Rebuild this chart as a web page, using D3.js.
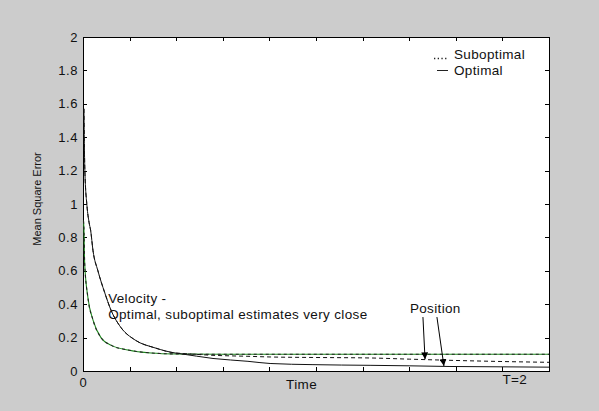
<!DOCTYPE html>
<html>
<head>
<meta charset="utf-8">
<script src="https://cdn.jsdelivr.net/npm/d3@7"></script>
<style>
  body { margin: 0; background: #cccccc; }
  svg { display: block; }
  text { font-family: "Liberation Sans", Arial, sans-serif; fill: #111; }
  .axis path, .axis line { stroke: #000; shape-rendering: crispEdges; }
  .axis text { font-size: 13px; letter-spacing: 0.6px; fill: #111; }
  .note { font-size: 13.5px; letter-spacing: 0.35px; }
</style>
</head>
<body>
<div id="chart"></div>
<script>
// Chart values
var posTime = [0.004, 0.006, 0.008, 0.017, 0.026, 0.033, 0.043, 0.064, 0.093, 0.12, 0.163, 0.223, 0.31, 0.395, 0.416, 0.558, 0.708, 0.803, 0.987, 1.232, 1.40, 1.575, 1.79, 2.0];
var posOptimal = [1.57, 1.34, 1.2, 0.99, 0.89, 0.84, 0.72, 0.60, 0.47, 0.365, 0.26, 0.186, 0.138, 0.108, 0.104, 0.075, 0.058, 0.045, 0.038, 0.034, 0.031, 0.027, 0.025, 0.023];
var posSuboptimal = [1.57, 1.34, 1.2, 0.99, 0.89, 0.84, 0.72, 0.60, 0.47, 0.365, 0.26, 0.186, 0.138, 0.108, 0.106, 0.094, 0.088, 0.084, 0.081, 0.078, 0.071, 0.064, 0.057, 0.052];

var velTime = [0.002, 0.004, 0.007, 0.021, 0.043, 0.077, 0.12, 0.193, 0.292, 0.4, 0.6, 1.0, 1.5, 2.0];
var velOptimal = [0.9, 0.85, 0.65, 0.44, 0.305, 0.2, 0.155, 0.126, 0.108, 0.102, 0.1, 0.1, 0.1, 0.1];
var velSuboptimal = [0.9, 0.85, 0.65, 0.44, 0.305, 0.2, 0.155, 0.126, 0.108, 0.102, 0.1, 0.1, 0.1, 0.1];

var xTicks = [0, 0.2, 0.4, 0.6, 0.8, 1, 1.2, 1.4, 1.6, 1.8, 2];
var yTicks = [0, 0.2, 0.4, 0.6, 0.8, 1, 1.2, 1.4, 1.6, 1.8, 2];

// annotation anchors, in data units
var positionArrows = [
  { t0: 1.459, v0: 0.323, t1: 1.468, v1: 0.07 },
  { t0: 1.519, v0: 0.323, t1: 1.549, v1: 0.03 }
];

// SVG area
var svgWidth = 599;
var svgHeight = 411;

var margin = { top: 37, right: 50, bottom: 40, left: 83 };
var chartWidth = svgWidth - margin.left - margin.right;
var chartHeight = svgHeight - margin.top - margin.bottom;

var svg = d3.select("#chart")
  .append("svg")
  .attr("width", svgWidth)
  .attr("height", svgHeight);

svg.append("defs").append("marker")
  .attr("id", "arrow")
  .attr("viewBox", "0 0 8 8")
  .attr("refX", 8)
  .attr("refY", 4)
  .attr("markerUnits", "userSpaceOnUse")
  .attr("markerWidth", 7)
  .attr("markerHeight", 7)
  .attr("orient", "auto")
  .append("path")
  .attr("d", "M0,0L8,4L0,8Z")
  .attr("fill", "#000");

var chartGroup = svg.append("g")
  .attr("transform", `translate(${margin.left}, ${margin.top})`);

chartGroup.append("rect")
  .attr("width", chartWidth)
  .attr("height", chartHeight)
  .attr("fill", "#fff");

var xScale = d3.scaleLinear().domain([0, 2]).range([0, chartWidth]);
var yScale = d3.scaleLinear().domain([0, 2]).range([chartHeight, 0]);

// axes, ticks pointing inwards like the original
chartGroup.append("g")
  .attr("class", "axis")
  .call(d3.axisLeft(yScale).tickValues(yTicks).tickSize(-4).tickSizeOuter(0)
    .tickPadding(5).tickFormat(d3.format("~g")));

chartGroup.append("g")
  .attr("class", "axis")
  .attr("transform", `translate(${chartWidth}, 0)`)
  .call(d3.axisRight(yScale).tickValues(yTicks).tickSize(-4).tickSizeOuter(0).tickFormat(""));

chartGroup.append("g")
  .attr("class", "axis")
  .call(d3.axisTop(xScale).tickValues(xTicks).tickSize(-4).tickSizeOuter(0).tickFormat(""));

chartGroup.append("g")
  .attr("class", "axis")
  .attr("transform", `translate(0, ${chartHeight})`)
  .call(d3.axisBottom(xScale).tickValues(xTicks).tickSize(-4).tickSizeOuter(0)
    .tickPadding(7).tickFormat(d => d === 0 ? "0" : ""));

chartGroup.selectAll(".axis .domain").remove();

chartGroup.append("rect")
  .attr("width", chartWidth)
  .attr("height", chartHeight)
  .attr("fill", "none")
  .attr("stroke", "#000")
  .attr("shape-rendering", "crispEdges");

// lines
var drawLine = d3.line()
  .x(d => xScale(d[0]))
  .y(d => yScale(d[1]))
  .curve(d3.curveMonotoneX);

var lines = chartGroup.append("g");

lines.append("path")
  .attr("d", drawLine(velTime.map((t, i) => [t, velOptimal[i]])))
  .attr("fill", "none")
  .attr("stroke", "#1f8a1f")
  .attr("stroke-width", 1.1);

lines.append("path")
  .attr("d", drawLine(velTime.map((t, i) => [t, velSuboptimal[i]])))
  .attr("fill", "none")
  .attr("stroke", "#222")
  .attr("stroke-width", 1.1)
  .attr("stroke-dasharray", "3,3");

lines.append("path")
  .attr("d", drawLine(posTime.map((t, i) => [t, posSuboptimal[i]])))
  .attr("fill", "none")
  .attr("stroke", "#111")
  .attr("stroke-width", 1)
  .attr("stroke-dasharray", "4,3");

lines.append("path")
  .attr("d", drawLine(posTime.map((t, i) => [t, posOptimal[i]])))
  .attr("fill", "none")
  .attr("stroke", "#111")
  .attr("stroke-width", 1);

// annotations
chartGroup.append("text")
  .attr("class", "note")
  .attr("x", xScale(0.108))
  .attr("y", yScale(0.41))
  .text("Velocity -");

chartGroup.append("text")
  .attr("class", "note")
  .attr("x", xScale(0.108))
  .attr("y", yScale(0.31))
  .text("Optimal, suboptimal estimates very close");

chartGroup.append("text")
  .attr("class", "note")
  .attr("x", xScale(1.403))
  .attr("y", yScale(0.347))
  .text("Position");

chartGroup.selectAll(".arrow")
  .data(positionArrows)
  .enter()
  .append("line")
  .attr("class", "arrow")
  .attr("x1", d => xScale(d.t0))
  .attr("y1", d => yScale(d.v0))
  .attr("x2", d => xScale(d.t1))
  .attr("y2", d => yScale(d.v1))
  .attr("stroke", "#000")
  .attr("stroke-width", 1)
  .attr("marker-end", "url(#arrow)");

// legend
var legend = chartGroup.append("g")
  .attr("transform", `translate(${chartWidth - 116}, 0)`);

legend.append("line")
  .attr("x1", 1).attr("x2", 15).attr("y1", 21.5).attr("y2", 21.5)
  .attr("stroke", "#222").attr("stroke-width", 1.3).attr("stroke-dasharray", "1.3,2.4");

legend.append("text")
  .attr("class", "note")
  .attr("x", 21).attr("y", 22)
  .text("Suboptimal");

legend.append("line")
  .attr("x1", 4).attr("x2", 15).attr("y1", 33.5).attr("y2", 33.5)
  .attr("stroke", "#222").attr("stroke-width", 1);

legend.append("text")
  .attr("class", "note")
  .attr("x", 21).attr("y", 38)
  .text("Optimal");

// axis labels
chartGroup.append("text")
  .attr("class", "note")
  .attr("x", xScale(0.938))
  .attr("y", chartHeight + 18)
  .attr("text-anchor", "middle")
  .text("Time");

chartGroup.append("text")
  .attr("class", "note")
  .attr("x", xScale(1.8))
  .attr("y", chartHeight + 13)
  .text("T=2");

svg.append("text")
  .attr("transform", `translate(41, ${margin.top + chartHeight / 2 - 5}) rotate(-90)`)
  .attr("text-anchor", "middle")
  .attr("font-size", "11px")
  .text("Mean Square Error");
</script>
</body>
</html>
